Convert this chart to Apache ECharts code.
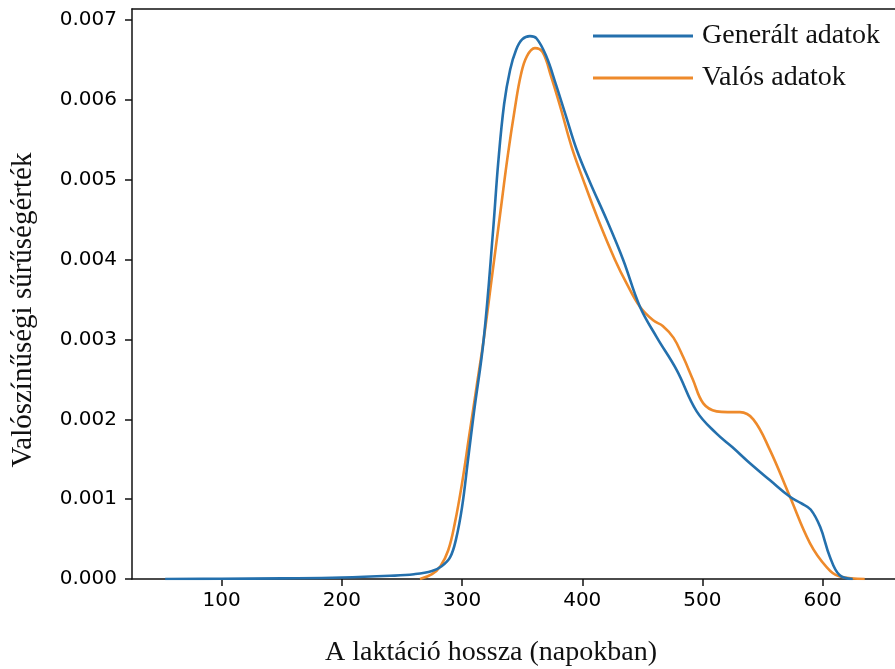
<!DOCTYPE html>
<html>
<head>
<meta charset="utf-8">
<script src="https://cdn.jsdelivr.net/npm/echarts@6/dist/echarts.min.js"></script>
<style>html,body{margin:0;padding:0;background:#fff}#c{width:895px;height:669px}</style>
</head>
<body>
<div id="c"></div>
<script>
// Generated data (blue)
const genX = [53, 100, 150, 200, 240, 260, 275, 283, 290, 295, 300, 305, 310, 318, 326, 330, 335, 340, 345, 350, 356.5, 362, 370, 378, 386, 395.3, 406.4, 420.3, 434, 448, 461.9, 478.5, 495.2, 511.8, 525, 539.5, 556, 572.8, 582, 590, 598, 606, 614, 625];
const genY = [0, 0.000003, 0.000008, 0.000018, 0.00004, 0.00006, 0.0001, 0.00016, 0.00027, 0.0005, 0.0009, 0.0015, 0.0021, 0.003, 0.0044, 0.0052, 0.00595, 0.00638, 0.00663, 0.00676, 0.0068, 0.00677, 0.00655, 0.0062, 0.00582, 0.00538, 0.00497, 0.0045, 0.004, 0.00341, 0.00303, 0.00262, 0.0021, 0.00182, 0.00165, 0.00145, 0.00124, 0.00103, 0.00095, 0.00087, 0.00065, 0.00028, 0.00005, 0];
// Real data (orange)
const realX = [265, 275, 282, 288.5, 294, 300, 306, 312, 318, 325, 331.5, 338, 344, 349, 354, 360.6, 367, 374, 382, 391.2, 400.8, 413.3, 427.2, 437, 448, 459, 467, 476, 484, 492, 500.7, 511.8, 521, 531.2, 542.3, 556, 572.8, 589.4, 603.3, 614.4, 635];
const realY = [0, 0.00006, 0.00016, 0.00036, 0.0007, 0.0012, 0.0018, 0.0024, 0.003, 0.0038, 0.00455, 0.0053, 0.0059, 0.00632, 0.00655, 0.00665, 0.0066, 0.0063, 0.0059, 0.00541, 0.005, 0.0045, 0.004, 0.0037, 0.00341, 0.00324, 0.00317, 0.00302, 0.00278, 0.0025, 0.0022, 0.0021, 0.00209, 0.00209, 0.002, 0.00162, 0.00103, 0.00045, 0.00015, 0.00003, 0];
const xTicks = [100, 200, 300, 400, 500, 600];
const yTicks = [0, 0.001, 0.002, 0.003, 0.004, 0.005, 0.006, 0.007];
const seriesNames = ['Generált adatok', 'Valós adatok'];

const pair = (xs, ys) => xs.map((x, i) => [x, ys[i]]);
const chart = echarts.init(document.getElementById('c'), null, {renderer: 'canvas'});
const axisCol = '#111';
const tickFont = {fontFamily: 'DejaVu Sans', fontSize: 20, color: '#000'};
const serif = 'Liberation Serif';
chart.setOption({
  animation: false,
  backgroundColor: '#fff',
  grid: {left: 132, right: 0, top: 9, bottom: 90, containLabel: false},
  legend: {
    orient: 'vertical', left: 588, top: 16, icon: 'rect', itemWidth: 100, itemHeight: 3, itemGap: 12,
    textStyle: {fontFamily: serif, fontSize: 28, color: '#111', lineHeight: 30, padding: [0, 0, 0, 4]},
    data: seriesNames
  },
  xAxis: [{
    type: 'value', min: 25.4, max: 660.2,
    axisLine: {show: true, onZero: false, lineStyle: {color: axisCol, width: 1.5}},
    axisTick: {show: true, length: 7, customValues: xTicks, lineStyle: {color: axisCol, width: 1.5}},
    axisLabel: {customValues: xTicks, margin: 12, ...tickFont},
    splitLine: {show: false}
  }, {
    type: 'value', position: 'top', min: 25.4, max: 660.2,
    axisLine: {show: true, onZero: false, lineStyle: {color: axisCol, width: 1.5}},
    axisTick: {show: false}, axisLabel: {show: false}, splitLine: {show: false}
  }],
  yAxis: {
    type: 'value', min: 0, max: 0.00714,
    axisLine: {show: true, lineStyle: {color: axisCol, width: 1.5}},
    axisTick: {show: true, length: 7, customValues: yTicks, lineStyle: {color: axisCol, width: 1.5}},
    axisLabel: {customValues: yTicks, margin: 15, formatter: v => v.toFixed(3), ...tickFont},
    splitLine: {show: false}
  },
  graphic: [
    {type: 'text', x: 491, y: 653, style: {text: 'A laktáció hossza (napokban)', font: '28px "Liberation Serif"', fill: '#111', textAlign: 'center', textVerticalAlign: 'middle'}},
    {type: 'text', x: 23, y: 310, rotation: Math.PI / 2, style: {text: 'Valószínűségi sűrűségérték', font: '29px "Liberation Serif"', fill: '#111', textAlign: 'center', textVerticalAlign: 'middle'}}
  ],
  series: [
    {name: seriesNames[0], type: 'line', data: pair(genX, genY), smooth: 0.4, showSymbol: false, lineStyle: {width: 2.6, color: '#2470ad'}, itemStyle: {color: '#2470ad'}, z: 3},
    {name: seriesNames[1], type: 'line', data: pair(realX, realY), smooth: 0.4, showSymbol: false, lineStyle: {width: 2.6, color: '#ee8a2b'}, itemStyle: {color: '#ee8a2b'}, z: 2}
  ]
});
</script>
</body>
</html>
